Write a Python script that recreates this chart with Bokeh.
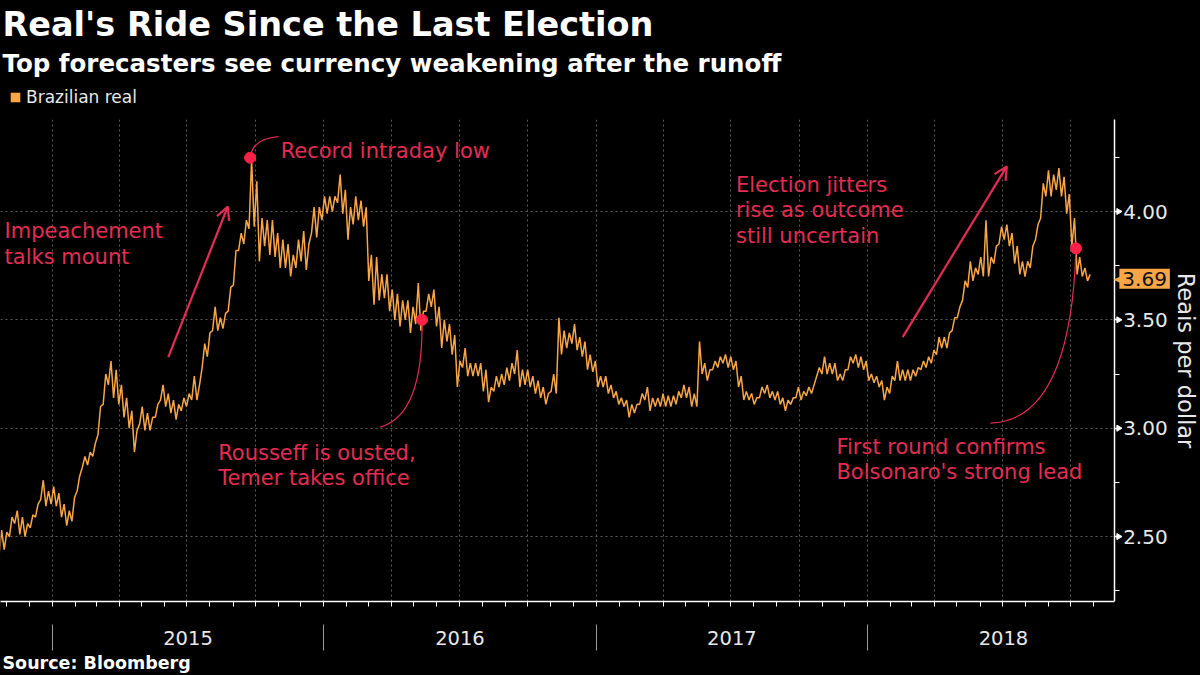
import math
import pandas as pd
from bokeh.plotting import figure
from bokeh.models import (Range1d, FixedTicker, DatetimeAxis, Label, Arrow, OpenHead,
                          Legend, LegendItem, PrintfTickFormatter, Title, BoxAnnotation)
from bokeh.embed import file_html
from bokeh.resources import INLINE

# ---------------- data ----------------
series_name = "Brazilian real"
week_start = "2014-10-24"          # first weekly bar (Friday)
week_low = [
    2.41, 2.44, 2.50, 2.56, 2.51, 2.50, 2.54, 2.59, 2.67, 2.64,
    2.65, 2.64, 2.59, 2.55, 2.57, 2.71, 2.82, 2.83, 2.87, 2.97,
    3.11, 3.20, 3.14, 3.11, 3.05, 3.00, 2.89, 3.02, 2.99, 2.99,
    3.05, 3.13, 3.10, 3.07, 3.04, 3.08, 3.10, 3.13, 3.13, 3.28,
    3.33, 3.45, 3.45, 3.46, 3.54, 3.66, 3.82, 3.85, 3.92, 3.93,
    3.77, 3.84, 3.80, 3.79, 3.74, 3.74, 3.70, 3.74, 3.77, 3.73,
    3.90, 3.88, 3.96, 3.99, 4.00, 4.04, 3.99, 3.87, 3.94, 3.96,
    3.93, 3.68, 3.57, 3.59, 3.60, 3.54, 3.50, 3.47, 3.50, 3.44,
    3.48, 3.45, 3.54, 3.56, 3.47, 3.37, 3.40, 3.34, 3.19, 3.28,
    3.24, 3.24, 3.24, 3.17, 3.12, 3.17, 3.19, 3.20, 3.22, 3.25,
    3.19, 3.20, 3.19, 3.16, 3.14, 3.11, 3.17, 3.16, 3.34, 3.37,
    3.39, 3.36, 3.33, 3.27, 3.26, 3.19, 3.19, 3.16, 3.14, 3.11,
    3.10, 3.05, 3.07, 3.11, 3.13, 3.08, 3.10, 3.10, 3.10, 3.10,
    3.11, 3.14, 3.14, 3.10, 3.10, 3.25, 3.22, 3.27, 3.28, 3.30,
    3.28, 3.27, 3.19, 3.13, 3.13, 3.11, 3.14, 3.16, 3.14, 3.13,
    3.11, 3.08, 3.11, 3.14, 3.13, 3.15, 3.16, 3.24, 3.25, 3.25,
    3.25, 3.22, 3.22, 3.27, 3.30, 3.28, 3.27, 3.22, 3.21, 3.19,
    3.13, 3.16, 3.22, 3.22, 3.22, 3.22, 3.24, 3.27, 3.28, 3.30,
    3.34, 3.37, 3.37, 3.45, 3.51, 3.59, 3.65, 3.68, 3.71, 3.70,
    3.70, 3.76, 3.85, 3.87, 3.84, 3.76, 3.71, 3.70, 3.74, 3.87,
    3.97, 4.07, 4.07, 4.10, 4.07, 3.99, 3.84, 3.71, 3.70, 3.68,
]
week_high = [
    2.53, 2.52, 2.59, 2.62, 2.59, 2.56, 2.60, 2.65, 2.76, 2.71,
    2.73, 2.70, 2.65, 2.62, 2.68, 2.78, 2.87, 2.89, 2.93, 3.10,
    3.25, 3.31, 3.27, 3.20, 3.14, 3.08, 2.99, 3.10, 3.07, 3.05,
    3.11, 3.20, 3.16, 3.13, 3.11, 3.14, 3.16, 3.24, 3.20, 3.39,
    3.44, 3.56, 3.51, 3.53, 3.65, 3.82, 3.90, 3.96, 4.24, 4.14,
    3.97, 3.96, 3.96, 3.90, 3.87, 3.85, 3.80, 3.87, 3.91, 3.85,
    4.02, 4.02, 4.07, 4.07, 4.07, 4.17, 4.10, 4.02, 4.07, 4.05,
    4.02, 3.80, 3.79, 3.71, 3.71, 3.64, 3.62, 3.59, 3.59, 3.56,
    3.67, 3.54, 3.62, 3.64, 3.56, 3.50, 3.48, 3.43, 3.31, 3.37,
    3.30, 3.30, 3.30, 3.27, 3.19, 3.24, 3.25, 3.28, 3.30, 3.36,
    3.27, 3.27, 3.24, 3.22, 3.19, 3.16, 3.25, 3.51, 3.45, 3.44,
    3.48, 3.42, 3.40, 3.34, 3.31, 3.24, 3.24, 3.20, 3.17, 3.14,
    3.13, 3.11, 3.11, 3.16, 3.19, 3.14, 3.14, 3.16, 3.15, 3.15,
    3.17, 3.20, 3.19, 3.16, 3.40, 3.30, 3.27, 3.31, 3.33, 3.34,
    3.33, 3.31, 3.24, 3.17, 3.16, 3.14, 3.19, 3.20, 3.17, 3.17,
    3.14, 3.13, 3.14, 3.19, 3.17, 3.19, 3.20, 3.28, 3.33, 3.30,
    3.30, 3.25, 3.27, 3.33, 3.34, 3.33, 3.31, 3.25, 3.24, 3.22,
    3.19, 3.24, 3.31, 3.27, 3.27, 3.27, 3.28, 3.31, 3.33, 3.36,
    3.42, 3.42, 3.44, 3.51, 3.56, 3.68, 3.77, 3.74, 3.79, 3.96,
    3.79, 3.84, 3.93, 3.94, 3.90, 3.84, 3.77, 3.77, 3.84, 3.94,
    4.13, 4.19, 4.17, 4.20, 4.16, 4.08, 3.97, 3.79, 3.74, 3.71,
]
last_value = 3.69

event_names = ["Record intraday low", "Rousseff ousted", "First round"]
event_dates = ["2015-09-24", "2016-05-12", "2018-10-08"]
event_values = [4.248, 3.50, 3.83]

y_ticks = [2.50, 3.00, 3.50, 4.00]
y_minor_ticks = [2.25, 2.75, 3.25, 3.75, 4.25]
year_labels = ["2015", "2016", "2017", "2018"]

title_text = "Real's Ride Since the Last Election"
subtitle_text = "Top forecasters see currency weakening after the runoff"
source_text = "Source: Bloomberg"
y_label = "Reais per dollar"

# annotation texts and where they sit (date, value of the text block's top)
note_texts = ["Record intraday low",
              "Impeachement\ntalks mount",
              "Rousseff is ousted,\nTemer takes office",
              "Election jitters\nrise as outcome\nstill uncertain",
              "First round confirms\nBolsonaro's strong lead"]
note_dates = ["2015-11-04", "2014-10-29", "2015-08-12", "2017-07-08", "2017-11-20"]
note_values = [4.336, 3.966, 2.943, 4.179, 2.970]

# connectors: from event dot to label (quadratic curves)
curve_end_dates = ["2015-11-01", "2016-03-17", "2018-06-15"]
curve_end_values = [4.346, 3.005, 3.023]
curve_ctrl_dates = ["2015-09-27", "2016-05-14", "2018-10-01"]
curve_ctrl_values = [4.337, 3.06, 3.037]

# arrows
arrow_start_dates = ["2015-06-06", "2018-02-17"]
arrow_start_values = [3.328, 3.42]
arrow_end_dates = ["2015-08-25", "2018-07-07"]
arrow_end_values = [4.023, 4.208]

# ---------------- layout / styles ----------------
X_START = "2014-10-23 12:00"   # left edge of the plot
AXIS_AT = "2018-11-28 06:00"   # where the value axis stands
X_END = "2019-03-24 08:00"     # right edge of the canvas
Y_MIN, Y_TOP, Y_MAX = 2.2003, 4.4245, 4.6184   # axis bottom, axis top, legend row top
ORANGE = "#f9a646"
RED = "#e42d52"
DOT = "#ff2146"
GRID = "#5c5c5c"
TXT = "#e8e8e8"
FONT = "DejaVu Sans"


def ms(d):
    return pd.Timestamp(d).value / 1e6


weeks = pd.date_range(week_start, periods=len(week_low), freq="7D")
zx, zy = [], []
for d, lo, hi in zip(weeks, week_low, week_high):
    zx += [d - pd.Timedelta(hours=60), d + pd.Timedelta(hours=24)]
    zy += [lo, hi]

p = figure(width=1200, height=675, frame_width=1200, frame_height=524,
           x_axis_type="datetime", y_axis_location="right", title=None,
           x_range=Range1d(ms(X_START), ms(X_END)),
           y_range=Range1d(Y_MIN, Y_MAX),
           output_backend="svg", toolbar_location=None,
           background_fill_color="black", border_fill_color="black",
           min_border_left=0, min_border_right=0, min_border_top=77, min_border_bottom=74)
p.outline_line_color = None
p.styles = {"background-color": "black"}

# grids
quarters = pd.date_range("2015-01-01", "2018-10-01", freq="QS")
p.xgrid.ticker = FixedTicker(ticks=[ms(q) for q in quarters])
p.ygrid.ticker = FixedTicker(ticks=y_ticks)
for g in (p.xgrid[0], p.ygrid[0]):
    g.grid_line_color = GRID
    g.grid_line_dash = "2 3"
    g.grid_line_width = 1
# keep the grid inside the axes' box
p.add_layout(BoxAnnotation(left=ms(AXIS_AT), fill_color="black", fill_alpha=1,
                           line_alpha=0, level="underlay"))
p.add_layout(BoxAnnotation(bottom=Y_TOP, fill_color="black", fill_alpha=1,
                           line_alpha=0, level="underlay"))

# y axis (right, standing at AXIS_AT)
ya = p.yaxis[0]
ya.fixed_location = ms(AXIS_AT)
ya.bounds = (Y_MIN, Y_TOP)
ya.ticker = FixedTicker(ticks=y_ticks, minor_ticks=y_minor_ticks)
ya.formatter = PrintfTickFormatter(format="%.2f")
ya.axis_line_color = "white"
ya.axis_line_width = 1.5
ya.major_tick_line_color = "white"
ya.major_tick_line_width = 1.5
ya.major_tick_out = 5
ya.major_tick_in = 0
ya.minor_tick_line_color = "white"
ya.minor_tick_out = 5
ya.minor_tick_in = 0
ya.major_label_standoff = 4
ya.major_label_text_font = FONT
ya.major_label_text_font_size = "20px"
ya.major_label_text_color = TXT
ya.axis_label = y_label
ya.axis_label_text_font = FONT
ya.axis_label_text_font_size = "22.5px"
ya.axis_label_text_font_style = "normal"
ya.axis_label_text_color = TXT
ya.axis_label_standoff = 2
# small pointer heads on the major ticks
p.scatter([ms(pd.Timestamp(AXIS_AT) + pd.Timedelta(days=6))] * len(y_ticks), y_ticks,
          marker="triangle", angle=-math.pi / 2, size=6, color="white", level="guide")

# x axis: monthly ticks + year labels at mid-year
year_starts = [pd.Timestamp(f"{y}-01-01") for y in year_labels]
year_mids = [s + (pd.Timestamp(f"{int(y)+1}-01-01") - s) / 2 for s, y in zip(year_starts, year_labels)]
months = pd.date_range("2014-11-01", "2018-11-01", freq="MS")
xa = p.xaxis[0]
xa.bounds = (ms(X_START), ms(AXIS_AT))
xa.ticker = FixedTicker(ticks=[ms(m) for m in year_mids], minor_ticks=[ms(m) for m in months])
xa.major_label_overrides = {int(ms(m)): lbl for m, lbl in zip(year_mids, year_labels)}
xa.major_tick_line_color = None
xa.major_tick_out = 27
xa.major_tick_in = 0
xa.minor_tick_line_color = "white"
xa.minor_tick_out = 5
xa.minor_tick_in = 0
xa.axis_line_color = "white"
xa.axis_line_width = 1.5
xa.major_label_standoff = 2
xa.major_label_text_font = FONT
xa.major_label_text_font_size = "19.5px"
xa.major_label_text_color = TXT

# year separators
xb = DatetimeAxis(ticker=FixedTicker(ticks=[ms(s) for s in year_starts]))
xb.bounds = (ms(X_START), ms(AXIS_AT))
xb.major_label_overrides = {int(ms(s)): "" for s in year_starts}
xb.axis_line_color = None
xb.major_tick_line_color = "#9a9a9a"
xb.major_tick_in = 23
xb.major_tick_out = 3
xb.minor_tick_line_color = None
xb.major_label_standoff = 0
xb.major_label_text_font_size = "1px"
p.add_layout(xb, "below")

# source line under everything
p.add_layout(Title(text=source_text, text_font=FONT, text_font_size="17.5px",
                   text_font_style="bold", text_color="white", standoff=0, offset=2), "below")

# the series
p.line(zx, zy, line_color=ORANGE, line_width=1.5)

# connectors and arrows
p.quadratic(x0=[ms(d) for d in event_dates], y0=event_values,
            x1=[ms(d) for d in curve_end_dates], y1=curve_end_values,
            cx=[ms(d) for d in curve_ctrl_dates], cy=curve_ctrl_values,
            line_color=RED, line_width=1.2)
for sd, sv, ed, ev in zip(arrow_start_dates, arrow_start_values, arrow_end_dates, arrow_end_values):
    p.add_layout(Arrow(x_start=ms(sd), y_start=sv, x_end=ms(ed), y_end=ev,
                       line_color=RED, line_width=2.2,
                       end=OpenHead(size=13, line_color=RED, line_width=2.2)))
p.scatter([ms(d) for d in event_dates], event_values, size=11, color=DOT)

for t, d, v in zip(note_texts, note_dates, note_values):
    p.add_layout(Label(x=ms(d), y=v, text=t, text_font=FONT, text_font_size="21px",
                       text_color=RED, text_baseline="top", text_align="left",
                       text_line_height=1.07))

# last-value tag just right of the value axis
tag_x = pd.Timestamp(AXIS_AT) + pd.Timedelta(days=7)
p.add_layout(Label(x=ms(pd.Timestamp(AXIS_AT) - pd.Timedelta(days=1)), y=last_value,
                   text="\u25c0", text_color=ORANGE,
                   text_font=FONT, text_font_size="13px", text_baseline="middle"))
p.add_layout(Label(x=ms(tag_x), y=last_value, text=f"{last_value:.2f}",
                   text_color="#111111", background_fill_color=ORANGE, padding=3,
                   text_font=FONT, text_font_size="20px", text_baseline="middle"))

# legend row (inside the top strip of the plot area); the key is a zero-size box at the last value
sq = p.quad(left=[weeks[-1]], right=[weeks[-1]], top=[last_value], bottom=[last_value],
            fill_color=ORANGE, line_color=None)
legend = Legend(items=[LegendItem(label=series_name, renderers=[sq])],
                location=(9, 494), padding=0, margin=0, spacing=0,
                glyph_width=12, glyph_height=12, label_height=14, label_standoff=5,
                background_fill_alpha=0, border_line_alpha=0,
                label_text_font=FONT, label_text_font_size="17px", label_text_color=TXT)
p.add_layout(legend, "center")

# subtitle and title above the plot (nearest first)
p.add_layout(Title(text=subtitle_text, text_font=FONT, text_font_size="24.5px",
                   text_font_style="bold", text_color="white", standoff=0, offset=2), "above")
p.add_layout(Title(text=title_text, text_font=FONT, text_font_size="33.5px",
                   text_font_style="bold", text_color="white", standoff=5, offset=2), "above")

open("out.html", "w").write(file_html(p, INLINE))
